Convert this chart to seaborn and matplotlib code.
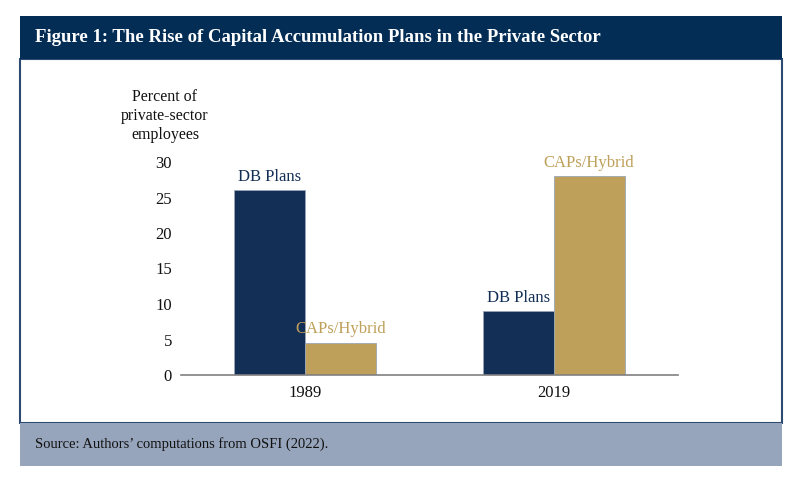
import pandas as pd
import seaborn as sns
import matplotlib.pyplot as plt
from matplotlib.patches import Rectangle

years = ["1989", "2019"]
plan_types = ["DB Plans", "CAPs/Hybrid"]
db_values = [26, 9]
cap_values = [4.5, 28]
y_ticks = [0, 5, 10, 15, 20, 25, 30]

NAVY = "#142f56"
GOLD = "#bfa05a"
HEADER = "#032d55"
FOOTER = "#97a5bc"
BORDER = "#2c4a72"

df = pd.DataFrame({
    "year": years * 2,
    "plan": [plan_types[0]] * 2 + [plan_types[1]] * 2,
    "value": db_values + cap_values,
})

sns.set_style("white")
plt.rcParams["font.family"] = ["Liberation Serif", "DejaVu Serif"]

fig = plt.figure(figsize=(8, 4.79), dpi=100)
W, H = 800, 479

def px(x0, y0, x1, y1):
    # pixel box (top-left origin) -> figure fraction
    return x0 / W, 1 - y1 / H, (x1 - x0) / W, (y1 - y0) / H

# frame pieces, kept behind the axes
x, y, w, h = px(20, 59, 782, 423)
fig.patches.append(Rectangle((x, y), w, h, transform=fig.transFigure,
                             facecolor="white", edgecolor=BORDER, lw=1.5, zorder=-2))
x, y, w, h = px(20, 16, 782, 59)
fig.patches.append(Rectangle((x, y), w, h, transform=fig.transFigure,
                             facecolor=HEADER, edgecolor="none", zorder=-1))
x, y, w, h = px(20, 423, 782, 466)
fig.patches.append(Rectangle((x, y), w, h, transform=fig.transFigure,
                             facecolor=FOOTER, edgecolor="none", zorder=-1))

fig.text(35 / W, 1 - 38 / H, "Figure 1: The Rise of Capital Accumulation Plans in the Private Sector",
         color="white", fontsize=13.5, fontweight="bold", va="center", ha="left")
fig.text(35 / W, 1 - 444 / H, "Source: Authors’ computations from OSFI (2022).",
         color="#111111", fontsize=10.5, va="center", ha="left")

ax = fig.add_axes(px(181, 162, 678, 375))
sns.barplot(data=df, x="year", y="value", hue="plan", order=years, hue_order=plan_types,
            palette=[NAVY, GOLD], width=0.57, saturation=1, edgecolor="#9aa6b6",
            linewidth=0.6, legend=False, ax=ax)

ax.set_xlim(-0.5, 1.5)
ax.set_ylim(0, 30)
ax.set_yticks(y_ticks)
ax.set_xlabel("")
ax.set_ylabel("")
ax.tick_params(axis="both", length=0, labelsize=12, colors="#111111")
ax.tick_params(axis="y", pad=6.5)
ax.tick_params(axis="x", pad=7)
for s in ["top", "right", "left"]:
    ax.spines[s].set_visible(False)
ax.spines["bottom"].set_color("#808080")
ax.spines["bottom"].set_linewidth(1.2)
ax.patch.set_alpha(0)

# bar labels from the bar containers
for cont, lab, col in zip(ax.containers, plan_types, [NAVY, GOLD]):
    for bar in cont:
        ax.annotate(lab, (bar.get_x() + bar.get_width() / 2, bar.get_height()),
                    xytext=(0, 4), textcoords="offset points", ha="center", va="bottom",
                    fontsize=12, color=col)

fig.text(165 / W, 1 - 116 / H, "Percent of\nprivate-sector\nemployees",
         ha="center", va="center", fontsize=11.5, color="#111111", linespacing=1.25)

fig.savefig("out.png", dpi=100)
